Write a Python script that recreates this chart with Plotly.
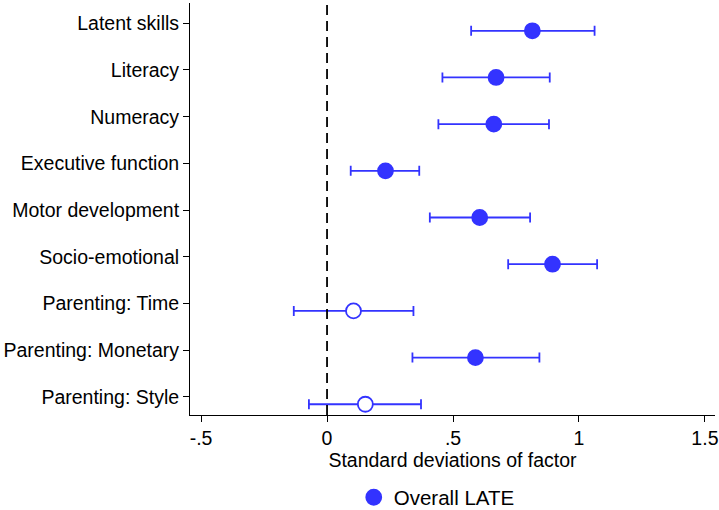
import plotly.graph_objects as go

categories = ["Latent skills", "Literacy", "Numeracy", "Executive function",
              "Motor development", "Socio-emotional", "Parenting: Time",
              "Parenting: Monetary", "Parenting: Style"]
estimate = [0.815, 0.671, 0.662, 0.232, 0.606, 0.895, 0.105, 0.589, 0.152]
ci_low = [0.572, 0.458, 0.442, 0.094, 0.408, 0.719, -0.132, 0.339, -0.072]
ci_high = [1.062, 0.884, 0.881, 0.366, 0.806, 1.072, 0.343, 0.843, 0.373]
significant = [True, True, True, True, True, True, False, True, False]
x_ticks = [-0.5, 0, 0.5, 1, 1.5]
x_tick_labels = ["-.5", "0", ".5", "1", "1.5"]

BLUE = "rgb(51,51,255)"
FONT = "Arial, Liberation Sans, sans-serif"
offset = 0.16  # coefplot marker offset below the category tick

pos = list(range(1, len(categories) + 1))

def subset(flag):
    idx = [i for i, s in enumerate(significant) if s == flag]
    return dict(
        x=[estimate[i] for i in idx],
        y=[pos[i] + offset for i in idx],
        plus=[ci_high[i] - estimate[i] for i in idx],
        minus=[estimate[i] - ci_low[i] for i in idx],
    )

fig = go.Figure()

for flag in (True, False):
    d = subset(flag)
    fig.add_trace(go.Scatter(
        x=d["x"], y=d["y"], mode="markers",
        name="Overall LATE", showlegend=flag,
        error_x=dict(type="data", symmetric=False, array=d["plus"],
                     arrayminus=d["minus"], color=BLUE, thickness=1.8, width=5),
        marker=dict(symbol="circle", size=15,
                    color=BLUE if flag else "white",
                    line=dict(color=BLUE, width=1.8)),
    ))

# zero reference line
fig.add_shape(type="line", xref="x", yref="paper", x0=0, x1=0, y0=0, y1=1,
              line=dict(color="black", width=1.8, dash="10px,6px"), layer="above")

fig.update_layout(
    width=719, height=510,
    margin=dict(l=190, r=4, t=3, b=95, autoexpand=False),
    paper_bgcolor="white", plot_bgcolor="white",
    font=dict(family=FONT, size=19.5, color="black"),
    legend=dict(orientation="h", x=0.47, xanchor="center", y=-0.2, yanchor="middle",
                font=dict(size=20.5)),
    xaxis=dict(range=[-0.544, 1.54], tickvals=x_ticks, ticktext=x_tick_labels,
               showline=True, linecolor="black", linewidth=1,
               ticks="outside", ticklen=6, tickcolor="black",
               showgrid=False, zeroline=False, tickfont=dict(size=19.5),
               title=dict(text="Standard deviations of factor", standoff=2,
                          font=dict(size=19.5))),
    yaxis=dict(range=[9.39, 0.565], tickvals=pos, ticktext=categories,
               showline=True, linecolor="black", linewidth=1,
               ticks="outside", ticklen=6, tickcolor="black",
               showgrid=False, zeroline=False, tickfont=dict(size=19.5)),
)

fig.write_html("out.html")
